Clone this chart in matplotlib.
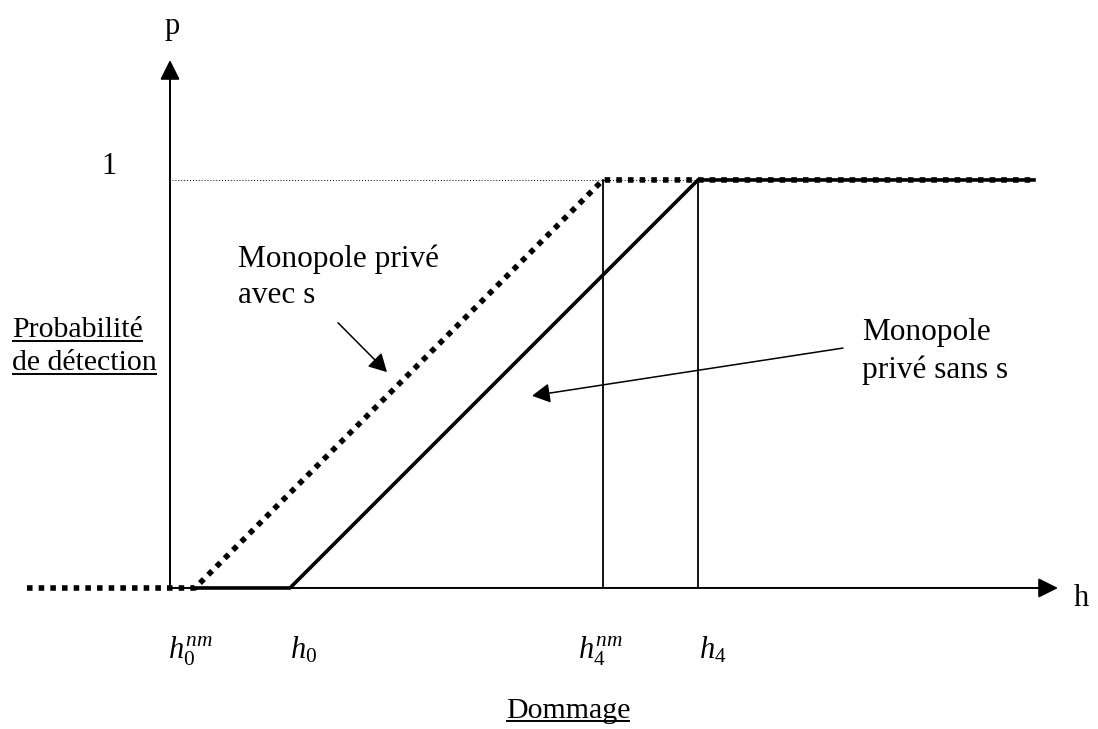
import matplotlib
matplotlib.use("Agg")
import matplotlib.pyplot as plt

plt.rcParams['font.family'] = ['Liberation Serif', 'DejaVu Serif']
plt.rcParams['mathtext.fontset'] = 'custom'
plt.rcParams['mathtext.rm'] = 'Liberation Serif'
plt.rcParams['mathtext.it'] = 'Liberation Serif:italic'

# threshold points on the damage axis (h) and detection probability (p)
h_left = -1.45
h0_nm = 0.23
h0 = 1.18
h4_nm = 4.31
h4 = 5.26
h_right = 8.62

avec_s_h = [h_left, h0_nm, h4_nm, h_right]
avec_s_p = [0, 0, 1, 1]
sans_s_h = [h0_nm, h0, h4, h_right]
sans_s_p = [0, 0, 1, 1]

tick_h = [h0_nm, h0, h4_nm, h4]
tick_labels = [r'$h_{\mathrm{0}}^{nm}$', r'$h_{\mathrm{0}}$', r'$h_{\mathrm{4}}^{nm}$', r'$h_{\mathrm{4}}$']
tick_shift = [-0.27, 0.0, -0.25, 0.01]

fig = plt.figure(figsize=(10.98, 7.29), dpi=100)
ax = fig.add_axes([0, 0, 1, 1])
ax.set_xlim(-1.72, 9.26)
ax.set_ylim(-0.3456, 1.441)
ax.axis('off')

"""axes with arrows"""
ax.annotate('', xy=(8.86, 0), xytext=(-0.02, 0),
            arrowprops=dict(arrowstyle='-|>,head_length=0.6,head_width=0.3', mutation_scale=20,
                            lw=1.4, color='k', shrinkA=0, shrinkB=0), zorder=2)
ax.annotate('', xy=(-0.02, 1.294), xytext=(-0.02, 0),
            arrowprops=dict(arrowstyle='-|>,head_length=0.6,head_width=0.3', mutation_scale=20,
                            lw=1.4, color='k', shrinkA=0, shrinkB=0), zorder=2)

"""guides"""
ax.plot([0, h_right], [1, 1], color='k', lw=0.7, linestyle=(0, (1, 2)), zorder=1)
ax.plot([h4_nm, h4_nm], [0, 1], color='k', lw=1.3, zorder=1)
ax.plot([h4, h4], [0, 1], color='k', lw=1.3, zorder=1)

"""the two curves"""
ax.plot(sans_s_h, sans_s_p, color='k', lw=2.6, solid_joinstyle='miter', zorder=3)
ax.plot(avec_s_h, avec_s_p, color='k', lw=4.0, linestyle=(0, (1, 1.1)),
        dash_capstyle='butt', zorder=4)

"""annotations"""
ax.annotate('', xy=(2.15, 0.529), xytext=(1.66, 0.650),
            arrowprops=dict(arrowstyle='-|>,head_length=0.55,head_width=0.3', mutation_scale=20,
                            lw=1.1, color='k', shrinkA=0, shrinkB=0))
ax.annotate('', xy=(3.60, 0.471), xytext=(6.71, 0.588),
            arrowprops=dict(arrowstyle='-|>,head_length=0.55,head_width=0.3', mutation_scale=20,
                            lw=1.1, color='k', shrinkA=0, shrinkB=0))

ax.text(0.66, 0.787, 'Monopole privé', fontsize=22.5, va='baseline')
ax.text(0.66, 0.699, 'avec s', fontsize=22.5, va='baseline')
ax.text(6.90, 0.608, 'Monopole', fontsize=22.5, va='baseline')
ax.text(6.90, 0.515, 'privé sans s', fontsize=22.5, va='baseline')

ax.text(0.0, 1.377, 'p', fontsize=22, ha='center', va='center')
ax.text(9.09, -0.027, 'h', fontsize=22, ha='center', va='center')
ax.text(-0.63, 1.032, '1', fontsize=22, ha='center', va='center')

for x, lab, dx in zip(tick_h, tick_labels, tick_shift):
    ax.text(x + dx, -0.172, lab, fontsize=22, ha='left', va='baseline')

"""underlined labels"""
under = []
under.append(ax.text(-1.60, 0.615, 'Probabilité', fontsize=21.5, va='baseline'))
under.append(ax.text(-1.60, 0.534, 'de détection', fontsize=21.5, va='baseline'))
under.append(ax.text(3.96, -0.318, 'Dommage', fontsize=21.5, ha='center', va='baseline'))

fig.canvas.draw()
inv = ax.transData.inverted()
for t in under:
    bb = t.get_window_extent()
    x0 = inv.transform((bb.x0, 0))[0]
    x1 = inv.transform((bb.x1, 0))[0]
    y = t.get_position()[1] - 3.5 / 408
    ax.plot([x0, x1], [y, y], color='k', lw=1.4, solid_capstyle='butt')

fig.savefig('out.png', dpi=100)
